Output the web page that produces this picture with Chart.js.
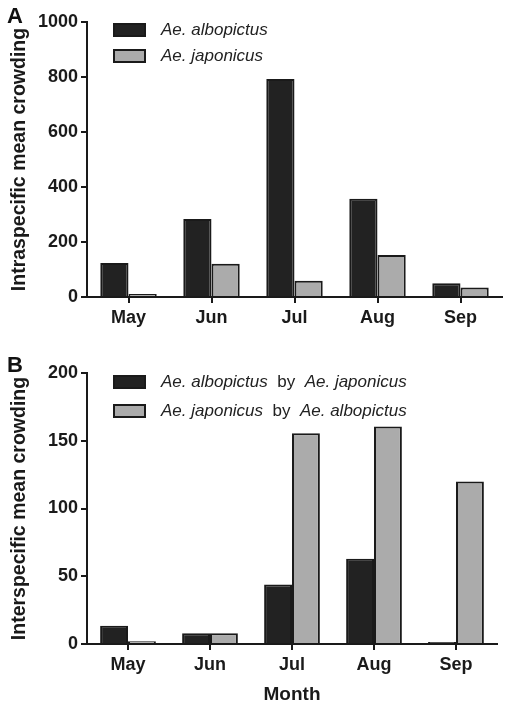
<!DOCTYPE html>
<html>
<head>
<meta charset="utf-8">
<script src="https://cdn.jsdelivr.net/npm/chart.js@4/dist/chart.umd.min.js"></script>
<style>
  html, body { margin: 0; padding: 0; background: #fff; }
  #wrap { position: relative; width: 512px; height: 710px; }
  .panel { position: absolute; left: 0; width: 512px; }
  .letter { position: absolute; left: 7px; font: bold 22px "Liberation Sans", Arial, sans-serif; color: #111; }
</style>
</head>
<body>
<div id="wrap">
  <div class="panel" style="top:0;height:340px"><canvas id="chartA"></canvas></div>
  <div class="panel" style="top:340px;height:370px"><canvas id="chartB"></canvas></div>
  <div class="letter" style="top:3px">A</div>
  <div class="letter" style="top:352px">B</div>
</div>
<script>
const months = ['May', 'Jun', 'Jul', 'Aug', 'Sep'];

const intraLabels = ['Ae. albopictus', 'Ae. japonicus'];
const intraAlbopictus = [124, 284, 793, 357, 50];
const intraJaponicus = [11, 121, 59, 153, 35];
const intraTicks = [0, 200, 400, 600, 800, 1000];

const interLabels = ['Ae. albopictus by Ae. japonicus', 'Ae. japonicus by Ae. albopictus'];
const interAlbByJap = [13.5, 8, 44, 63, 1.5];
const interJapByAlb = [2, 8, 155.5, 160.5, 120];
const interTicks = [0, 50, 100, 150, 200];

const FONT = '"Liberation Sans", Arial, sans-serif';
const INK = '#1a1a1a';
const DARK = '#222222';
const GREY = '#ababab';

// draws the legend, with "by" in upright type and species names in italics
const mixedLegend = {
    id: 'mixedLegend',
    afterDraw(chart, args, opts) {
        const ctx = chart.ctx;
        ctx.save();
        chart.data.datasets.forEach((ds, i) => {
            const y = opts.y + i * opts.gap;
            ctx.fillStyle = ds.backgroundColor;
            ctx.strokeStyle = INK;
            ctx.lineWidth = 2;
            ctx.fillRect(opts.x, y - 6, 31, 12);
            ctx.strokeRect(opts.x, y - 6, 31, 12);
            let x = opts.x + 47;
            ctx.fillStyle = '#222';
            ctx.textBaseline = 'middle';
            const parts = ds.label.split(' by ');
            parts.forEach((p, j) => {
                if (j > 0) {
                    ctx.font = '17px ' + FONT;
                    ctx.fillText('  by  ', x, y);
                    x += ctx.measureText('  by  ').width;
                }
                ctx.font = 'italic 17px ' + FONT;
                ctx.fillText(p, x, y);
                x += ctx.measureText(p).width;
            });
        });
        ctx.restore();
    }
};

function makeChart(id, labels, a, b, ticks, cfg) {
    const ctx = document.getElementById(id).getContext('2d');
    return new Chart(ctx, {
        type: 'bar',
        data: {
            labels: months,
            datasets: [
                { label: labels[0], data: a, backgroundColor: DARK, borderColor: INK, borderWidth: 2 },
                { label: labels[1], data: b, backgroundColor: GREY, borderColor: INK, borderWidth: 2 }
            ]
        },
        plugins: [mixedLegend],
        options: {
            responsive: true,
            maintainAspectRatio: false,
            animation: false,
            categoryPercentage: 0.68,
            barPercentage: 1,
            layout: { padding: cfg.padding },
            plugins: {
                legend: { display: false },
                tooltip: { enabled: false },
                mixedLegend: cfg.legend
            },
            scales: {
                x: {
                    grid: { offset: false, drawOnChartArea: false, drawTicks: true, tickLength: 6, color: INK, lineWidth: 2 },
                    border: { display: true, color: INK, width: 2 },
                    ticks: { color: INK, padding: 4, font: { family: FONT, size: 18, weight: 'bold' } },
                    title: {
                        display: !!cfg.xTitle, text: cfg.xTitle || '', color: INK,
                        padding: { top: 8 }, font: { family: FONT, size: 19, weight: 'bold' }
                    },
                    afterFit: s => { s.height = cfg.xHeight; }
                },
                y: {
                    min: 0,
                    max: ticks[ticks.length - 1],
                    afterBuildTicks: s => { s.ticks = ticks.map(v => ({ value: v })); },
                    grid: { drawOnChartArea: false, drawTicks: true, tickLength: 6, color: INK, lineWidth: 2 },
                    border: { display: true, color: INK, width: 2 },
                    ticks: { color: INK, padding: 3, callback: v => String(v), font: { family: FONT, size: 18, weight: 'bold' } },
                    title: {
                        display: true, text: cfg.yTitle, color: INK,
                        padding: { top: 8, bottom: 0 }, font: { family: FONT, size: 19.5, weight: 'bold' }
                    },
                    afterFit: s => { s.width = 87; }
                }
            }
        }
    });
}

makeChart('chartA', intraLabels, intraAlbopictus, intraJaponicus, intraTicks, {
    padding: { top: 22, right: 10, left: 0, bottom: 0 },
    xHeight: 43,
    yTitle: 'Intraspecific mean crowding',
    legend: { x: 114, y: 30, gap: 26 }
});

makeChart('chartB', interLabels, interAlbByJap, interJapByAlb, interTicks, {
    padding: { top: 33, right: 15, left: 0, bottom: 0 },
    xHeight: 66,
    xTitle: 'Month',
    yTitle: 'Interspecific mean crowding',
    legend: { x: 114, y: 42, gap: 29 }
});
</script>
</body>
</html>
